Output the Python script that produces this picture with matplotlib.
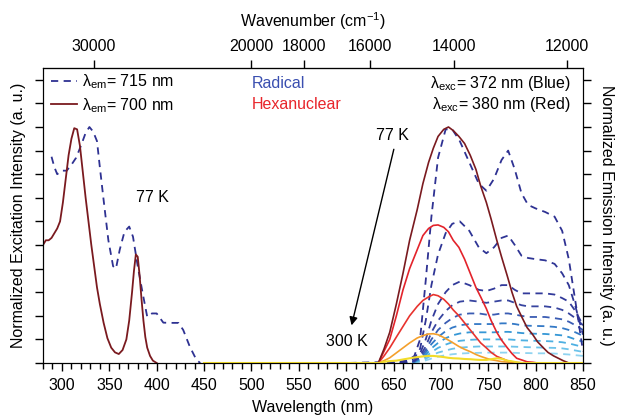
import matplotlib
matplotlib.use("Agg")
import matplotlib.pyplot as plt
from matplotlib.ticker import MultipleLocator, FixedLocator

plt.rcParams['font.family'] = ['Liberation Sans', 'DejaVu Sans']
plt.rcParams['mathtext.fontset'] = 'custom'
plt.rcParams['mathtext.rm'] = 'Liberation Sans'
plt.rcParams['mathtext.it'] = 'Liberation Sans:italic'

# ---------------- data ----------------
# excitation spectra (left part)
exc700_x = [280, 283, 286, 289, 292, 295, 298, 301, 304, 307, 310, 313, 316, 319, 322, 325, 328,
            331, 334, 337, 340, 344, 348, 352, 356, 360, 364, 368, 371, 374, 376, 378, 380, 382,
            384, 386, 388, 390, 393, 396, 400]
exc700_y = [0.50, 0.52, 0.52, 0.53, 0.55, 0.57, 0.60, 0.68, 0.78, 0.88, 0.95, 0.995, 0.99, 0.92,
            0.81, 0.70, 0.60, 0.50, 0.41, 0.32, 0.25, 0.17, 0.105, 0.065, 0.045, 0.038, 0.055,
            0.10, 0.18, 0.30, 0.39, 0.46, 0.45, 0.37, 0.27, 0.18, 0.11, 0.065, 0.03, 0.01, 0.0]

exc715_x = [289, 292, 295, 300, 305, 310, 315, 320, 325, 329, 333, 337, 340, 344, 349, 354, 357,
            361, 366, 371, 375, 380, 385, 390, 395, 400, 407, 414, 423, 428, 435, 442, 446]
exc715_y = [0.874, 0.83, 0.80, 0.815, 0.815, 0.84, 0.87, 0.92, 0.975, 1.0, 0.98, 0.94, 0.83, 0.69,
            0.52, 0.41, 0.40, 0.48, 0.556, 0.578, 0.535, 0.41, 0.30, 0.196, 0.21, 0.21, 0.171,
            0.17, 0.17, 0.14, 0.069, 0.013, 0.0]

# hexanuclear emission (solid), 77 K -> 300 K
hex_x = [450, 600, 634, 640, 646, 653, 660, 667, 675, 681, 687, 692, 697, 703, 708, 713, 719,
         725, 731, 737, 742, 748, 753, 759, 764, 770, 775, 780, 786, 791, 797, 802, 808, 813,
         819, 824, 829, 835, 850]
hex_1 = [0, 0, 0, 0.06, 0.13, 0.25, 0.38, 0.52, 0.65, 0.76, 0.85, 0.91, 0.96, 0.99, 1.0, 0.985,
         0.96, 0.93, 0.88, 0.82, 0.75, 0.68, 0.61, 0.52, 0.45, 0.37, 0.30, 0.24, 0.19, 0.15, 0.12,
         0.09, 0.065, 0.045, 0.03, 0.02, 0.01, 0, 0]
hex_2 = [0, 0, 0, 0.05, 0.10, 0.20, 0.31, 0.40, 0.48, 0.54, 0.57, 0.583, 0.585, 0.575, 0.556,
         0.52, 0.49, 0.44, 0.38, 0.32, 0.28, 0.23, 0.18, 0.13, 0.097, 0.065, 0.04, 0.02, 0.012,
         0.005, 0.003, 0, 0, 0, 0, 0, 0, 0, 0]
hex_3 = [0, 0, 0, 0.03, 0.064, 0.11, 0.155, 0.20, 0.24, 0.265, 0.28, 0.29, 0.285, 0.27, 0.25,
         0.225, 0.20, 0.17, 0.14, 0.11, 0.085, 0.064, 0.045, 0.028, 0.02, 0.01, 0.005, 0.002, 0,
         0, 0, 0, 0, 0, 0, 0, 0, 0, 0]
hex_4 = [0, 0, 0, 0.01, 0.022, 0.043, 0.064, 0.085, 0.106, 0.116, 0.123, 0.124, 0.12, 0.108,
         0.097, 0.085, 0.07, 0.058, 0.048, 0.036, 0.028, 0.02, 0.014, 0.01, 0.006, 0.004, 0.002,
         0, 0, 0, 0, 0, 0, 0, 0, 0, 0, 0, 0]
hex_5 = [0, 0, 0, 0.005, 0.008, 0.01, 0.015, 0.02, 0.025, 0.028, 0.03, 0.03, 0.028, 0.025,
         0.022, 0.02, 0.019, 0.017, 0.016, 0.014, 0.013, 0.013, 0.016, 0.02, 0.018, 0.01, 0.007,
         0.003, 0, 0, 0, 0, 0, 0, 0, 0, 0, 0, 0]
hex_series = [hex_1, hex_2, hex_3, hex_4, hex_5]

# radical emission (dashed), 77 K -> 300 K
rad_x = [550, 600, 650, 665, 672, 678, 684, 690, 697, 705, 712, 720, 730, 740, 748, 756, 764,
         771, 778, 785, 792, 800, 810, 820, 828, 835, 842, 850]
rad_1 = [0, 0, 0.005, 0.01, 0.03, 0.10, 0.35, 0.62, 0.87, 0.99, 0.99, 0.94, 0.85, 0.76, 0.73,
         0.78, 0.86, 0.90, 0.82, 0.72, 0.67, 0.655, 0.64, 0.62, 0.56, 0.44, 0.26, 0.05]
rad_2 = [0, 0, 0, 0.005, 0.02, 0.06, 0.18, 0.33, 0.46, 0.55, 0.59, 0.60, 0.56, 0.49, 0.465,
         0.49, 0.53, 0.54, 0.50, 0.455, 0.445, 0.44, 0.435, 0.42, 0.38, 0.33, 0.24, 0.12]
rad_3 = [0, 0, 0, 0.004, 0.01, 0.04, 0.10, 0.18, 0.25, 0.30, 0.33, 0.345, 0.33, 0.31, 0.305,
         0.315, 0.33, 0.33, 0.31, 0.295, 0.295, 0.295, 0.295, 0.29, 0.275, 0.26, 0.22, 0.16]
rad_4 = [0, 0, 0, 0.003, 0.008, 0.03, 0.07, 0.13, 0.18, 0.22, 0.245, 0.26, 0.265, 0.26, 0.255,
         0.26, 0.265, 0.265, 0.255, 0.245, 0.24, 0.24, 0.24, 0.235, 0.225, 0.21, 0.19, 0.16]
rad_5 = [0, 0, 0, 0.003, 0.007, 0.025, 0.055, 0.10, 0.14, 0.17, 0.19, 0.205, 0.21, 0.21, 0.205,
         0.205, 0.21, 0.21, 0.205, 0.20, 0.195, 0.195, 0.195, 0.19, 0.185, 0.175, 0.16, 0.14]
rad_6 = [0, 0, 0, 0.002, 0.006, 0.02, 0.045, 0.08, 0.11, 0.135, 0.15, 0.16, 0.165, 0.165, 0.165,
         0.165, 0.168, 0.168, 0.165, 0.16, 0.158, 0.157, 0.156, 0.153, 0.148, 0.14, 0.13, 0.115]
rad_7 = [0, 0, 0, 0.002, 0.005, 0.016, 0.035, 0.062, 0.085, 0.105, 0.117, 0.125, 0.13, 0.13,
         0.13, 0.13, 0.132, 0.132, 0.13, 0.127, 0.125, 0.124, 0.123, 0.12, 0.117, 0.11, 0.10, 0.09]
rad_8 = [0, 0, 0, 0.002, 0.004, 0.012, 0.026, 0.046, 0.064, 0.078, 0.088, 0.094, 0.098, 0.10,
         0.10, 0.10, 0.10, 0.10, 0.098, 0.096, 0.095, 0.094, 0.093, 0.091, 0.088, 0.083, 0.076,
         0.068]
rad_9 = [0, 0, 0, 0.001, 0.003, 0.008, 0.018, 0.032, 0.044, 0.053, 0.06, 0.065, 0.068, 0.07,
         0.07, 0.07, 0.07, 0.07, 0.069, 0.068, 0.067, 0.066, 0.065, 0.064, 0.062, 0.058, 0.053,
         0.047]
rad_10 = [0, 0, 0, 0.001, 0.002, 0.005, 0.011, 0.019, 0.027, 0.033, 0.037, 0.04, 0.042, 0.043,
          0.044, 0.044, 0.044, 0.044, 0.043, 0.042, 0.042, 0.041, 0.041, 0.04, 0.038, 0.036,
          0.033, 0.03]
rad_series = [rad_1, rad_2, rad_3, rad_4, rad_5, rad_6, rad_7, rad_8, rad_9, rad_10]

top_ticks = [30000, 20000, 18000, 16000, 14000, 12000]

# ---------------- styles ----------------
hex_colors = ['#7a1a1f', '#e3232b', '#e8332e', '#f4a02c', '#f2dc2a']
rad_colors = ['#2e3192', '#2f3595', '#323a9a', '#37449f', '#3a5cb3', '#3479c6', '#3597d6',
              '#4eb0e2', '#6dc3ea', '#8fd3f0']
navy = '#2e3192'
maroon = '#7a1a1f'
FS = 11.5

fig = plt.figure(figsize=(6.17, 4.20), dpi=100)
ax = fig.add_axes([43 / 617, 57 / 420, 540 / 617, 295 / 420])

# excitation
ax.plot(exc715_x, exc715_y, color=navy, lw=1.3, ls=(0, (4, 3)),
        label='λ$_{\\mathrm{em}}$= 715 nm')
ax.plot(exc700_x, exc700_y, color=maroon, lw=1.3, label='λ$_{\\mathrm{em}}$= 700 nm')

# emission
for ys, c in reversed(list(zip(rad_series, rad_colors))):
    ax.plot(rad_x, ys, color=c, lw=1.3, ls=(0, (4, 3)))
for ys, c in reversed(list(zip(hex_series[:4], hex_colors[:4]))):
    ax.plot(hex_x, ys, color=c, lw=1.2)
ax.plot(hex_x, hex_5, color=hex_colors[4], lw=1.5, zorder=3)

ax.set_xlim(280, 850)
ax.set_ylim(0, 1.25)
ax.set_xticks([t for t in range(300, 851, 50)])
ax.xaxis.set_minor_locator(MultipleLocator(10))
ax.yaxis.set_major_locator(MultipleLocator(0.1))
ax.tick_params(axis='x', which='major', direction='out', length=6, width=1, labelsize=FS, pad=5)
ax.tick_params(axis='x', which='minor', direction='out', length=4, width=1)
ax.tick_params(axis='y', which='both', direction='out', length=6, width=1, left=True,
               right=True, labelleft=False, labelright=False)
ax.set_xlabel('Wavelength (nm)', fontsize=FS, labelpad=5)
ax.set_ylabel('Normalized Excitation Intensity (a. u.)', fontsize=FS, labelpad=6)

axr = ax.twinx()
axr.set_ylim(0, 1.25)
axr.yaxis.set_major_locator(MultipleLocator(0.1))
axr.tick_params(axis='y', direction='out', length=6, width=1, labelright=False)
axr.set_ylabel('Normalized Emission Intensity (a. u.)', fontsize=FS, rotation=-90,
               labelpad=16)

top = ax.secondary_xaxis('top', functions=(lambda x: 1e7 / x, lambda k: 1e7 / k))
top.xaxis.set_major_locator(FixedLocator(top_ticks))
top.xaxis.set_minor_locator(FixedLocator([]))
top.tick_params(axis='x', direction='out', length=6, width=1, labelsize=FS, pad=4)
top.set_xlabel('Wavenumber (cm$^{-1}$)', fontsize=FS, labelpad=9)

leg = ax.legend(loc='upper left', bbox_to_anchor=(0.015, 0.985), frameon=False, fontsize=FS,
                handlelength=1.6, handletextpad=0.35, labelspacing=0.3, borderpad=0,
                borderaxespad=0)

ax.text(0.387, 0.949, 'Radical', transform=ax.transAxes, color='#3a4fb0', fontsize=FS,
        va='center', ha='left')
ax.text(0.387, 0.875, 'Hexanuclear', transform=ax.transAxes, color='#e8252b', fontsize=FS,
        va='center', ha='left')
ax.text(0.978, 0.949, 'λ$_{\\mathrm{exc}}$= 372 nm (Blue)', transform=ax.transAxes,
        fontsize=FS, va='center', ha='right')
ax.text(0.978, 0.875, 'λ$_{\\mathrm{exc}}$= 380 nm (Red)', transform=ax.transAxes,
        fontsize=FS, va='center', ha='right')

ax.text(395.6, 0.703, '77 K', fontsize=FS, ha='center', va='center')
ax.text(649, 0.962, '77 K', fontsize=FS, ha='center', va='center')
ax.text(600.5, 0.089, '300 K', fontsize=FS, ha='center', va='center')
ax.annotate('', xy=(605, 0.148), xytext=(651, 0.917),
            arrowprops=dict(arrowstyle='-|>', color='black', lw=1.0, mutation_scale=12))

fig.savefig('out.png', dpi=100)
